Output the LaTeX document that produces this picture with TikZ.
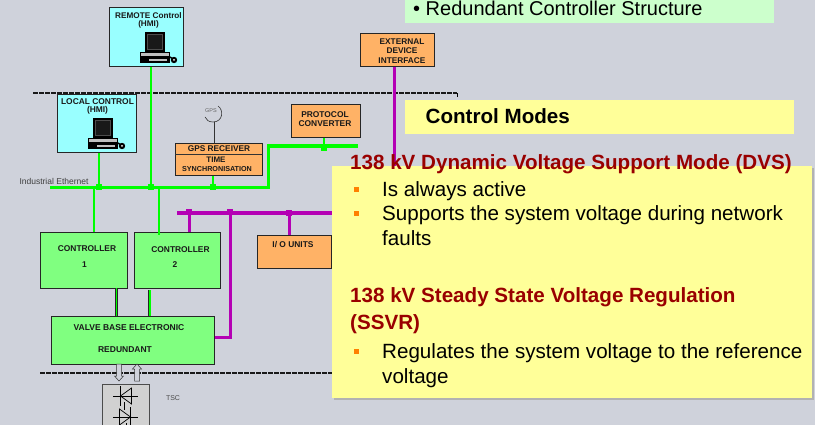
\documentclass[tikz,border=0pt]{standalone}
\usepackage{fontspec}
\setmainfont{Liberation Sans}
\usetikzlibrary{calc,arrows.meta}
\definecolor{slide}{RGB}{207,210,219}
\definecolor{hmicol}{RGB}{153,255,255}
\definecolor{ctrlcol}{RGB}{128,255,128}
\definecolor{unitcol}{RGB}{255,178,102}
\definecolor{notecol}{RGB}{255,255,153}
\definecolor{topcol}{RGB}{204,255,204}
\definecolor{redcol}{RGB}{153,0,0}
\definecolor{ethcol}{RGB}{0,255,0}
\definecolor{buscol}{RGB}{180,0,180}
\tikzset{
  box/.style={draw=black!85,line width=0.8pt,inner sep=0pt,anchor=north west},
  hmibox/.style={box,fill=hmicol},
  ctrlbox/.style={box,fill=ctrlcol},
  unitbox/.style={box,fill=unitcol},
  lab/.style={font=\fontsize{#1}{#1}\selectfont\bfseries,text=black!90,align=center,inner sep=0pt},
  lab/.default=8.4,
  eth/.style={ethcol,line width=3.5pt},
  eththin/.style={ethcol,line width=2pt},
  bus/.style={buscol,line width=3.5pt},
  busthin/.style={buscol,line width=3pt},
  twin/.style={double=ethcol,double distance=1.6pt,draw=black!85,line width=0.7pt},
  sect/.style={black!90,line width=2pt,dash pattern=on 4.5pt off 1.5pt},
  junce/.style={fill=ethcol,inner sep=0pt,minimum size=6pt},
  juncb/.style={fill=buscol,inner sep=0pt,minimum size=6pt},
  note/.style={inner sep=0pt,anchor=north west},
  body/.style={font=\fontsize{20.6}{20.6}\selectfont,text=black,inner sep=0pt,anchor=base west},
  head/.style={font=\fontsize{20.6}{20.6}\selectfont\bfseries,text=redcol,inner sep=0pt,anchor=base west},
  sq/.style={fill=orange,inner sep=0pt,minimum size=5pt},
  pics/hmi/.style={code={
    \fill[black] (0,0) rectangle (20,20);
    \fill[black!70] (2,2) rectangle (18,18);
    \fill[black!90] (3,3) rectangle (17,17);
    \fill[black] (-5,20) rectangle (25,31);
    \fill[black!25] (-4,21) rectangle (24,24.5);
    \fill[black!25] (4,27) rectangle (22,29);
    \draw[black,line width=1.5pt] (25,25) -- (28,27);
    \fill[black] (29,28) circle (3.2);
    \fill[white] (29,28) circle (1);
  }},
  thy/.style={black,line width=0.7pt},
}
\begin{document}
\begin{tikzpicture}[x=1pt,y=-1pt]
\useasboundingbox[fill=slide] (0,0) rectangle (815,425);
% section lines
\coordinate (dashl) at (33,93.5);
\coordinate (dashr) at (457,93.5);
\coordinate (dashe) at (457,97);
\coordinate (lowl) at (40,373);
\coordinate (lowr) at (332,373);
\draw[sect] (dashl) -- (dashr);
\draw[black,line width=0.8pt] (dashr) -- (dashe);
\draw[sect] (lowl) -- (lowr);
% boxes
\node[hmibox,minimum width=74pt,minimum height=59pt] (remote) at (109,7) {};
\node[hmibox,minimum width=79pt,minimum height=58pt] (local) at (57,94) {};
\node[unitbox,minimum width=87pt,minimum height=32pt] (gps) at (175,143) {};
\node[unitbox,minimum width=69pt,minimum height=33pt] (proto) at (291,104) {};
\node[unitbox,minimum width=74pt,minimum height=33pt] (extern) at (360,33) {};
\node[ctrlbox,minimum width=87pt,minimum height=56pt] (ctrla) at (40,232) {};
\node[ctrlbox,minimum width=86pt,minimum height=56.5pt] (ctrlb) at (134,232) {};
\node[ctrlbox,minimum width=163pt,minimum height=48pt] (valve) at (51,316) {};
\node[unitbox,minimum width=74pt,minimum height=33pt] (iou) at (257,235) {};
\node[box,fill=black!18,draw=black!70,minimum width=47pt,minimum height=50pt] (tsc) at (102,384) {};
% labels of the boxes
\node[lab=8.2] (remotet) at (148.5,20.5) {REMOTE Control\\[-0.5pt](HMI)};
\node[lab=8.4] (localt) at (97.5,106.5) {LOCAL CONTROL\\[-0.5pt](HMI)};
\node[lab=8.3] (gpsa) at (219,149) {GPS RECEIVER};
\node[lab=8] (gpsb) at (216,160) {TIME};
\node[lab=7.2] (gpsc) at (217,169.5) {SYNCHRONISATION};
\node[lab=8.4] (protot) at (325,119.5) {PROTOCOL\\[0.5pt]CONVERTER};
\node[lab=8.3] (externt) at (402,51) {EXTERNAL\\[1.5pt]DEVICE\\[1.5pt]INTERFACE};
\node[lab] (ctrlat) at (87,249) {CONTROLLER};
\node[lab] (ctrlan) at (84.5,265) {1};
\node[lab] (ctrlbt) at (180.5,250) {CONTROLLER};
\node[lab] (ctrlbn) at (175,265) {2};
\node[lab=8.5] (valvea) at (129,328) {VALVE BASE ELECTRONIC};
\node[lab=8.5] (valveb) at (125,350) {REDUNDANT};
\node[lab] (iout) at (293,245) {I/ O UNITS};
\node[font=\fontsize{7}{7}\selectfont,text=black!70] (tsct) at (173,398) {TSC};
\node[font=\fontsize{8.5}{8.5}\selectfont,text=black!75,inner sep=0pt] (ethlab) at (54,181) {Industrial Ethernet};
\draw (145,32) pic {hmi};
\draw (93,118) pic {hmi};
% gps aerial
\node[font=\fontsize{5.5}{5.5}\selectfont,text=black!60,inner sep=0pt] (gpsant) at (211,111) {GPS};
\coordinate (gpsfoot) at (214,122);
\draw[black!80,line width=0.6pt] (218,106) .. controls (224,110) and (223,122) .. (213,122) .. controls (209,122) and (206,120) .. (205,117);
\draw[black!80,line width=0.8pt] (gpsfoot) -- (gpsfoot |- gps.north);
\draw[black!80,line width=0.8pt] (gps.west |- 0,154) -- (gps.east |- 0,154);
% ethernet
\coordinate (ethl) at (50,187.5);
\coordinate (ethk) at (268.5,187.5);
\coordinate (ethm) at (268.5,146);
\coordinate (ethr) at (358,146);
\node[junce] (ja) at (98.5,187.5) {};
\node[junce] (jb) at (151,187.5) {};
\node[junce] (jc) at (213,187.5) {};
\node[junce] (jd) at (323.5,148) {};
\draw[eth] (ethl) -- (ethk) -- (ethm) -- (ethr);
\draw[eththin] (local.south -| ja) -- (ja);
\draw[eththin] (remote.south -| jb) -- (jb);
\draw[eththin] (gps.south -| jc) -- (jc);
\draw[eththin] (proto.south -| jd) -- (jd);
\coordinate (ca) at (94,187.5);
\coordinate (cb) at (159,187.5);
\draw[eththin] (ca) -- (ca |- ctrla.north);
\draw[eththin] (cb) -- ($(cb |- ctrlb.north)+(0,3)$);
% links to the valve base
\coordinate (va) at (116.5,288);
\coordinate (vb) at (149.7,290);
\draw[twin] (va) -- (va |- valve.north);
\draw[twin] (vb) -- (vb |- valve.north);
% plant bus
\coordinate (busl) at (177,213);
\coordinate (busr) at (335,213);
\node[juncb] (pa) at (189,212) {};
\node[juncb] (pb) at (230,212) {};
\node[juncb] (pc) at (289,213) {};
\coordinate (pk) at (230,337);
\draw[bus] (busl) -- (busr);
\draw[busthin] (pa) -- (pa |- ctrlb.north);
\draw[busthin] (pc) -- (pc |- iou.north);
\draw[busthin] (pb) -- (pk) -- (pk -| valve.east);
\coordinate (extfoot) at (394.5,170);
\draw[busthin] (extern.south -| extfoot) -- (extfoot);
% thyristor stack and arrows
\foreach \ys/\dir in {396/-1,417/1}
{
  \draw[thy] (113,\ys) -- (138,\ys);
  \draw[thy] (125.5-6*\dir,\ys-8) -- (125.5-6*\dir,\ys+8) -- (125.5+5*\dir,\ys) -- cycle;
  \draw[thy] (125.5+5*\dir,\ys-10) -- (125.5+5*\dir,\ys+10);
  \draw[thy] (125.5+1*\dir,\ys+6) -- (125.5+1*\dir,\ys+14);
}
\draw[draw=black!80,fill=slide,line width=0.5pt] (116.5,364) -- (116.5,376) -- (114.5,376) -- (119,381) -- (123.5,376) -- (121.5,376) -- (121.5,364) -- cycle;
\draw[draw=black!80,fill=slide,line width=0.5pt] (134.5,381) -- (134.5,369) -- (132.5,369) -- (137,364) -- (141.5,369) -- (139.5,369) -- (139.5,381) -- cycle;
% panels
\fill[black!30] (334,168) rectangle (813.5,399.5);
\node[note,fill=notecol,minimum width=480pt,minimum height=232pt] (panel) at (332,166) {};
\node[note,fill=notecol,minimum width=389pt,minimum height=34pt] (modes) at (405,100) {};
\node[note,fill=topcol,minimum width=369pt,minimum height=23pt] (structure) at (405,0) {};
\node[font=\fontsize{20}{20}\selectfont,inner sep=0pt,anchor=base west] (structt) at (413,15.5) {\textbullet\ Redundant Controller Structure};
\node[font=\fontsize{20.6}{20.6}\selectfont\bfseries,inner sep=0pt,anchor=base west] (modest) at (425.5,124) {Control Modes};
\node[head] (dvs) at (350,170) {138 kV Dynamic Voltage Support Mode (DVS)};
\node[body] (dvsa) at (382,197) {Is always active};
\node[body] (dvsb) at (382,221) {Supports the system voltage during network};
\node[body] (dvsc) at (382,246) {faults};
\node[head] (ssvr) at (350,302) {138 kV Steady State Voltage Regulation};
\node[head] (ssvrb) at (350,330) {(SSVR)};
\node[body] (ssvrc) at (382,358) {Regulates the system voltage to the reference};
\node[body] (ssvrd) at (382,383) {voltage};
\foreach \y [count=\i] in {190,214,351}
  \node[sq] (sq\i) at (356,\y) {};
\end{tikzpicture}
\end{document}
